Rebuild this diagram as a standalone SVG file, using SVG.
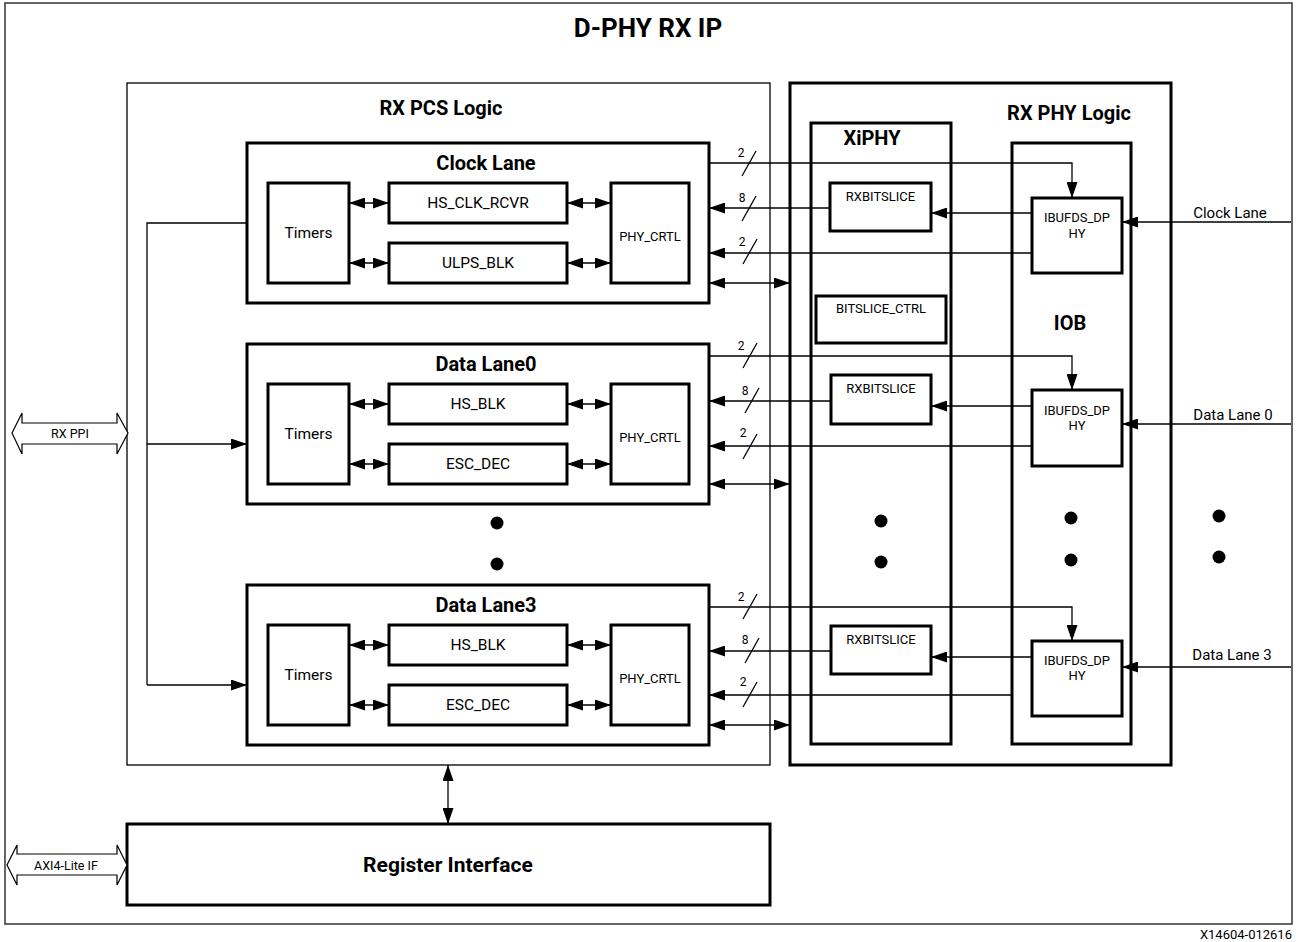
<svg xmlns="http://www.w3.org/2000/svg" width="1299" height="942" viewBox="0 0 1299 942">
<defs>
<marker id="ah" viewBox="0 0 16 11" markerWidth="16" markerHeight="11" refX="16" refY="5.5" orient="auto-start-reverse" markerUnits="userSpaceOnUse">
<path d="M0,0 L16,5.5 L0,11 z" fill="#000"/>
</marker>
<style>
text{font-family:Roboto,"Liberation Sans",Arial,sans-serif;fill:#000}
.t{text-anchor:middle}
.b{font-weight:bold}
.thin{fill:#fff;stroke:#000;stroke-width:1.3}
.thick{fill:#fff;stroke:#000;stroke-width:3}
.c{fill:none;stroke:#000;stroke-width:1.3}
.a{fill:none;stroke:#000;stroke-width:1.3;marker-end:url(#ah)}
.d{fill:none;stroke:#000;stroke-width:1.3;marker-start:url(#ah);marker-end:url(#ah)}
.hollow{fill:#fff;stroke:#000;stroke-width:1.2}
.s{stroke:#000;stroke-width:1.3}
.f16{font-size:15.5px}
.f13{font-size:13px}
.f12{font-size:12px}
.f20{font-size:20px}
</style>
</defs>

<g id="frame">
<rect x="5" y="3" width="1287" height="921" fill="#fff" stroke="#333" stroke-width="1.5"/>
<text class="t b" x="648" y="37" font-size="26">D-PHY RX IP</text>
</g>

<g id="rx-pcs">
<rect class="thin" x="127" y="83" width="643" height="682"/>
<text class="t b f20" x="441" y="115">RX PCS Logic</text>
</g>

<g id="rx-phy">
<rect class="thick" x="790" y="83" width="381" height="682"/>
<text class="t b f20" x="1069" y="120">RX PHY Logic</text>
</g>

<g id="xiphy">
<rect class="thick" x="811" y="123" width="140" height="621"/>
<text class="t b f20" x="872" y="145">XiPHY</text>
</g>

<g id="iob">
<rect class="thick" x="1012" y="143" width="119" height="601"/>
<text class="t b f20" x="1070" y="330">IOB</text>
</g>

<g id="bitslice-ctrl">
<rect class="thick" x="816" y="296" width="130" height="47"/>
<text class="t f13" x="881" y="313">BITSLICE_CTRL</text>
</g>

<!-- Clock Lane -->
<g id="clock-lane">
<rect class="thick" x="247" y="143" width="462" height="160"/>
<text class="t b f20" x="486" y="170">Clock Lane</text>
<rect class="thick" x="268" y="183" width="81" height="100"/>
<text class="t f16" x="308.5" y="238">Timers</text>
<rect class="thick" x="389" y="183" width="178" height="40"/>
<text class="t f16" x="478" y="208">HS_CLK_RCVR</text>
<rect class="thick" x="389" y="243" width="178" height="40"/>
<text class="t f16" x="478" y="268">ULPS_BLK</text>
<rect class="thick" x="611" y="183" width="78" height="100"/>
<text class="t f13" x="650" y="241">PHY_CRTL</text>
</g>

<!-- Data Lane0 -->
<g id="data-lane0">
<rect class="thick" x="247" y="344" width="462" height="160"/>
<text class="t b f20" x="486" y="371">Data Lane0</text>
<rect class="thick" x="268" y="384" width="81" height="100"/>
<text class="t f16" x="308.5" y="439">Timers</text>
<rect class="thick" x="389" y="384" width="178" height="40"/>
<text class="t f16" x="478" y="409">HS_BLK</text>
<rect class="thick" x="389" y="444" width="178" height="40"/>
<text class="t f16" x="478" y="469">ESC_DEC</text>
<rect class="thick" x="611" y="384" width="78" height="100"/>
<text class="t f13" x="650" y="442">PHY_CRTL</text>
</g>

<!-- Data Lane3 -->
<g id="data-lane3">
<rect class="thick" x="247" y="585" width="462" height="160"/>
<text class="t b f20" x="486" y="612">Data Lane3</text>
<rect class="thick" x="268" y="625" width="81" height="100"/>
<text class="t f16" x="308.5" y="680">Timers</text>
<rect class="thick" x="389" y="625" width="178" height="40"/>
<text class="t f16" x="478" y="650">HS_BLK</text>
<rect class="thick" x="389" y="685" width="178" height="40"/>
<text class="t f16" x="478" y="710">ESC_DEC</text>
<rect class="thick" x="611" y="625" width="78" height="100"/>
<text class="t f13" x="650" y="683">PHY_CRTL</text>
</g>

<g id="rxbitslice-clk">
<rect class="thick" x="830" y="183" width="101" height="48"/>
<text class="t f13" x="880.5" y="201">RXBITSLICE</text>
</g>
<g id="rxbitslice-dl0">
<rect class="thick" x="831" y="375" width="100" height="49"/>
<text class="t f13" x="881" y="393">RXBITSLICE</text>
</g>
<g id="rxbitslice-dl3">
<rect class="thick" x="831" y="626" width="100" height="48"/>
<text class="t f13" x="881" y="644">RXBITSLICE</text>
</g>

<g id="ibufds-clk">
<rect class="thick" x="1032" y="198" width="90" height="75"/>
<text class="t f13" x="1077" y="222">IBUFDS_DP</text>
<text class="t f13" x="1077" y="238">HY</text>
</g>
<g id="ibufds-dl0">
<rect class="thick" x="1032" y="390" width="90" height="76"/>
<text class="t f13" x="1077" y="415">IBUFDS_DP</text>
<text class="t f13" x="1077" y="430">HY</text>
</g>
<g id="ibufds-dl3">
<rect class="thick" x="1032" y="641" width="90" height="75"/>
<text class="t f13" x="1077" y="665">IBUFDS_DP</text>
<text class="t f13" x="1077" y="680">HY</text>
</g>

<g id="register-interface">
<rect class="thick" x="127" y="824" width="643" height="81"/>
<text class="t b" x="448" y="872" font-size="21">Register Interface</text>
</g>

<g id="rx-ppi">
<polygon class="hollow" points="12,433 22,413 22,423 117,423 117,413 128,433 117,454 117,444 22,444 22,454"/>
<text class="t" x="70" y="437.5" font-size="12.5">RX PPI</text>
</g>

<g id="axi4-lite">
<polygon class="hollow" points="7,865 17,845 17,854 117,854 117,845 127,865 117,885 117,875 17,875 17,885"/>
<text class="t" x="66" y="869.5" font-size="12.5">AXI4-Lite IF</text>
</g>

<g id="dots">
<circle cx="497" cy="523" r="6.5"/>
<circle cx="497" cy="564" r="6.5"/>
<circle cx="881" cy="521" r="6.5"/>
<circle cx="881" cy="562" r="6.5"/>
<circle cx="1071" cy="518" r="6.5"/>
<circle cx="1071" cy="560" r="6.5"/>
<circle cx="1219" cy="516" r="6.5"/>
<circle cx="1219" cy="557" r="6.5"/>
</g>

<g id="connectors">
<!-- left control bus -->
<polyline class="c" points="247,223 147,223 147,685"/>
<line class="a" x1="147" y1="444" x2="247" y2="444"/>
<line class="a" x1="147" y1="685" x2="247" y2="685"/>
<!-- register interface -->
<line class="d" x1="448" y1="765" x2="448" y2="824"/>

<!-- clock lane internal -->
<line class="d" x1="349" y1="203" x2="389" y2="203"/>
<line class="d" x1="349" y1="263" x2="389" y2="263"/>
<line class="d" x1="567" y1="203" x2="611" y2="203"/>
<line class="d" x1="567" y1="263" x2="611" y2="263"/>
<!-- data lane0 internal -->
<line class="d" x1="349" y1="404" x2="389" y2="404"/>
<line class="d" x1="349" y1="464" x2="389" y2="464"/>
<line class="d" x1="567" y1="404" x2="611" y2="404"/>
<line class="d" x1="567" y1="464" x2="611" y2="464"/>
<!-- data lane3 internal -->
<line class="d" x1="349" y1="645" x2="389" y2="645"/>
<line class="d" x1="349" y1="705" x2="389" y2="705"/>
<line class="d" x1="567" y1="645" x2="611" y2="645"/>
<line class="d" x1="567" y1="705" x2="611" y2="705"/>

<!-- clock lane external -->
<polyline class="a" points="709,163 1072,163 1072,198"/>
<line class="a" x1="830" y1="208" x2="709" y2="208"/>
<line class="a" x1="1032" y1="213" x2="931" y2="213"/>
<line class="a" x1="1032" y1="253" x2="709" y2="253"/>
<line class="d" x1="709" y1="283" x2="790" y2="283"/>
<line class="a" x1="1291" y1="222" x2="1122" y2="222"/>

<!-- data lane0 external -->
<polyline class="a" points="709,356 1072,356 1072,390"/>
<line class="a" x1="831" y1="401" x2="709" y2="401"/>
<line class="a" x1="1032" y1="406" x2="931" y2="406"/>
<line class="a" x1="1032" y1="446" x2="709" y2="446"/>
<line class="d" x1="709" y1="484" x2="790" y2="484"/>
<line class="a" x1="1291" y1="424" x2="1122" y2="424"/>

<!-- data lane3 external -->
<polyline class="a" points="709,607 1072,607 1072,641"/>
<line class="a" x1="831" y1="651" x2="709" y2="651"/>
<line class="a" x1="1032" y1="657" x2="931" y2="657"/>
<line class="a" x1="1012" y1="695" x2="709" y2="695"/>
<line class="d" x1="709" y1="725" x2="790" y2="725"/>
<line class="a" x1="1291" y1="667" x2="1122" y2="667"/>

<!-- bus width slashes -->
<line class="s" x1="756" y1="151" x2="742" y2="176"/>
<text class="t f12" x="741" y="157">2</text>
<line class="s" x1="756" y1="196" x2="742" y2="221"/>
<text class="t f12" x="742" y="202">8</text>
<line class="s" x1="757" y1="239" x2="743" y2="264"/>
<text class="t f12" x="742" y="246">2</text>

<line class="s" x1="757" y1="343" x2="743" y2="368"/>
<text class="t f12" x="741" y="350">2</text>
<line class="s" x1="759" y1="388" x2="745" y2="413"/>
<text class="t f12" x="745" y="395">8</text>
<line class="s" x1="757" y1="434" x2="743" y2="459"/>
<text class="t f12" x="743" y="437">2</text>

<line class="s" x1="757" y1="594" x2="743" y2="619"/>
<text class="t f12" x="741" y="601">2</text>
<line class="s" x1="759" y1="638" x2="745" y2="663"/>
<text class="t f12" x="745" y="644">8</text>
<line class="s" x1="757" y1="682" x2="743" y2="707"/>
<text class="t f12" x="743" y="686">2</text>
</g>

<g id="input-labels">
<text class="t" x="1230" y="218" font-size="15">Clock Lane</text>
<text class="t" x="1233" y="420" font-size="15">Data Lane 0</text>
<text class="t" x="1232" y="660" font-size="15">Data Lane 3</text>
</g>

<text x="1292" y="939" font-size="13" text-anchor="end">X14604-012616</text>
</svg>
